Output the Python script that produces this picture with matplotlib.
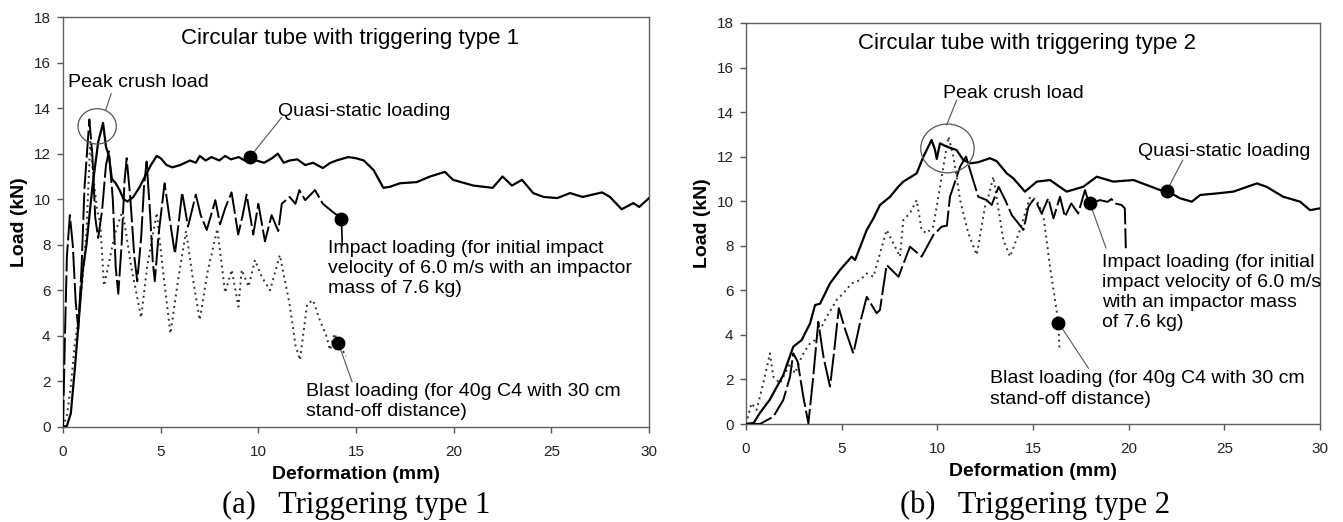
"""
Load vs deformation of circular tubes under quasi-static, impact and blast
loading, for two triggering types. Values read off the published figure.
"""
import matplotlib
matplotlib.use('Agg')
import matplotlib.pyplot as plt
from matplotlib.patches import Ellipse

plt.rcParams['font.family'] = ['Liberation Sans', 'DejaVu Sans']

# ---------------- triggering type 1 ----------------
qs1_x = [0, 0.2, 0.4, 0.6, 0.8, 1.0, 1.2, 1.5, 1.8, 2.05,
         2.2, 2.35, 2.5, 2.7, 2.9, 3.1, 3.3, 3.6, 3.9, 4.2,
         4.5, 4.8, 5.0, 5.3, 5.6, 6.0, 6.5, 6.8, 7.0, 7.3,
         7.6, 8.0, 8.3, 8.6, 9.0, 9.3, 9.57, 9.9, 10.3, 10.7,
         11.0, 11.3, 11.6, 12.0, 12.4, 12.8, 13.3, 13.67, 14.0, 14.6,
         15.0, 15.4, 15.9, 16.4, 16.75, 17.25, 18.1, 18.8, 19.55, 19.97,
         21.0, 22.0, 22.5, 22.98, 23.5, 24.07, 24.6, 25.3, 25.96, 26.6,
         27.6, 28.0, 28.6, 29.2, 29.5, 30.0]
qs1_y = [0, 0.05, 0.6, 2.5, 4.6, 6.8, 8.0, 10.5, 12.5, 13.35,
         12.3, 11.9, 10.9, 10.7, 10.4, 10.0, 9.9, 10.1, 10.5, 11.0,
         11.5, 11.9, 11.8, 11.5, 11.4, 11.5, 11.7, 11.6, 11.9, 11.7,
         11.85, 11.7, 11.9, 11.75, 11.85, 11.7, 11.85, 11.7, 11.6, 11.8,
         12.0, 11.6, 11.7, 11.75, 11.5, 11.6, 11.37, 11.59, 11.7, 11.85,
         11.8, 11.7, 11.28, 10.5, 10.55, 10.7, 10.75, 11.0, 11.2, 10.85,
         10.6, 10.5, 11.0, 10.6, 10.85, 10.27, 10.1, 10.05, 10.27, 10.1,
         10.3, 10.1, 9.56, 9.83, 9.66, 10.05]

imp1_x = [0, 0.1, 0.2, 0.35, 0.5, 0.65, 0.78, 0.95, 1.1, 1.35,
          1.5, 1.65, 1.8, 2.0, 2.2, 2.35, 2.55, 2.7, 2.83, 3.0,
          3.15, 3.26, 3.45, 3.65, 3.8, 4.0, 4.15, 4.28, 4.45, 4.6,
          4.7, 4.9, 5.2, 5.45, 5.73, 5.9, 6.1, 6.4, 6.8, 7.05,
          7.36, 7.8, 8.04, 8.3, 8.63, 8.97, 9.2, 9.4, 9.74, 10.0,
          10.34, 10.68, 11.02, 11.2, 11.6, 11.9, 12.1, 12.4, 12.9, 13.3,
          13.8, 14.25]
imp1_y = [0, 4.0, 7.5, 9.3, 8.0, 5.5, 4.3, 7.0, 10.5, 13.5,
          12.0, 9.2, 8.3, 9.5, 11.5, 12.1, 10.0, 7.0, 5.85, 8.0,
          10.8, 11.8, 10.0, 7.5, 6.4, 8.3, 10.6, 11.65, 9.5, 7.2,
          6.4, 8.5, 10.7, 9.2, 7.6, 8.8, 10.3, 8.8, 10.2, 9.3,
          8.65, 9.96, 8.9, 9.6, 10.3, 8.45, 9.3, 10.2, 8.45, 9.8,
          8.15, 9.3, 8.6, 9.8, 10.1, 9.8, 10.4, 9.96, 10.4, 9.8,
          9.45, 9.15]

bl1_x = [0, 0.2, 0.4, 0.6, 0.8, 1.0, 1.2, 1.4, 1.55, 1.75,
         1.9, 2.1, 2.3, 2.66, 3.05, 3.5, 4.0, 4.3, 4.8, 5.1,
         5.5, 5.9, 6.3, 6.65, 7.0, 7.4, 7.9, 8.3, 8.64, 8.98,
         9.15, 9.5, 9.83, 10.17, 10.6, 11.1, 11.6, 11.9, 12.13, 12.5,
         12.8, 13.1, 13.5, 13.67, 13.9, 14.1, 14.5]
bl1_y = [0, 0.5, 1.8, 3.6, 4.8, 6.5, 8.6, 12.6, 11.0, 9.5,
         9.0, 6.2, 7.0, 8.5, 9.5, 7.0, 4.8, 7.0, 9.4, 7.0,
         4.1, 6.5, 8.6, 6.5, 4.7, 6.8, 8.7, 5.9, 6.9, 5.28,
         6.9, 6.16, 7.33, 6.6, 6.0, 7.55, 5.4, 3.6, 2.94, 5.4,
         5.57, 4.8, 3.96, 3.38, 4.1, 3.67, 3.09]

# ---------------- triggering type 2 ----------------
qs2_x = [0, 0.4, 0.73, 1.25, 1.95, 2.47, 2.91, 3.35, 3.61, 3.87,
         4.39, 4.91, 5.52, 5.7, 6.31, 6.66, 7.0, 7.53, 7.96, 8.22,
         8.92, 9.27, 9.7, 9.88, 9.97, 10.14, 10.49, 11.0, 11.36, 11.71,
         12.14, 12.75, 13.1, 13.63, 13.97, 14.58, 15.2, 15.89, 16.76, 17.63,
         18.33, 19.2, 20.25, 20.94, 21.64, 21.99, 22.69, 23.3, 23.74, 24.6,
         25.47, 26.7, 27.2, 28.08, 28.96, 29.48, 30.0]
qs2_y = [0, 0.05, 0.5, 1.1, 2.2, 3.47, 3.77, 4.52, 5.34, 5.4,
         6.31, 6.91, 7.51, 7.36, 8.71, 9.23, 9.83, 10.2, 10.65, 10.88,
         11.25, 12.0, 12.75, 12.3, 11.9, 12.6, 12.45, 12.3, 11.85, 11.7,
         11.75, 11.93, 11.8, 11.25, 11.03, 10.43, 10.88, 10.95, 10.43, 10.65,
         11.1, 10.88, 10.95, 10.73, 10.5, 10.47, 10.13, 9.98, 10.28, 10.35,
         10.43, 10.8, 10.65, 10.2, 9.98, 9.6, 9.68]

imp2_x = [0, 0.73, 1.43, 1.95, 2.3, 2.47, 2.7, 3.0, 3.26, 3.5,
          3.78, 4.05, 4.39, 4.6, 4.85, 5.2, 5.61, 5.95, 6.31, 6.83,
          7.0, 7.35, 7.97, 8.57, 9.18, 9.79, 10.23, 10.5, 10.66, 11.19,
          11.5, 11.71, 12.14, 12.58, 12.84, 13.2, 13.55, 13.89, 14.24, 14.5,
          14.76, 15.0, 15.2, 15.45, 15.8, 16.07, 16.41, 16.67, 17.0, 17.36,
          17.72, 17.9, 17.98, 18.5, 18.9, 19.1, 19.3, 19.63, 19.8, 19.85]
imp2_y = [0, 0.0, 0.33, 1.08, 2.12, 3.17, 2.8, 1.2, 0.03, 2.0,
          4.59, 3.0, 1.68, 3.2, 5.2, 4.2, 3.17, 4.5, 5.71, 4.97,
          5.12, 7.14, 6.61, 7.96, 7.51, 8.48, 8.86, 8.9, 10.2, 11.55,
          12.0, 11.4, 10.2, 10.05, 9.83, 10.65, 10.05, 9.38, 9.0, 8.71,
          9.75, 10.05, 9.9, 9.45, 10.13, 9.23, 10.2, 9.3, 9.9, 9.45,
          10.5, 9.97, 9.9, 10.05, 9.97, 10.1, 9.9, 9.83, 9.68, 7.89]

bl2_x = [0, 0.29, 0.55, 0.64, 0.95, 1.25, 1.43, 1.78, 2.3, 2.56,
         2.91, 3.09, 3.35, 3.61, 4.22, 4.74, 5.09, 5.52, 5.96, 6.31,
         6.66, 7.35, 7.7, 8.05, 8.22, 8.57, 8.92, 9.18, 9.44, 9.79,
         10.14, 10.58, 10.84, 11.19, 11.62, 12.06, 12.49, 12.67, 12.93, 13.2,
         13.45, 13.8, 14.32, 14.85, 15.2, 15.55, 15.89, 16.15, 16.33, 16.38]
bl2_y = [0, 0.93, 0.63, 0.93, 2.0, 3.17, 2.12, 1.82, 2.72, 2.27,
         3.02, 3.3, 3.62, 3.77, 4.82, 5.57, 5.87, 6.31, 6.46, 6.76,
         6.61, 8.71, 8.11, 7.51, 9.16, 9.46, 10.05, 8.71, 8.56, 8.86,
         10.65, 12.9, 12.0, 10.05, 8.56, 7.59, 9.75, 10.2, 11.1, 9.6,
         8.26, 7.51, 8.71, 10.2, 10.05, 9.3, 7.06, 5.57, 4.55, 3.4]

# index of the point carrying the black label marker (qs, impact, blast)
marker_idx1 = [36, -1, 45]
marker_idx2 = [45, 52, 48]

titles = ['Circular tube with triggering type 1', 'Circular tube with triggering type 2']
captions = ['(a)   Triggering type 1', '(b)   Triggering type 2']
qs_label = 'Quasi-static loading'
peak_label = 'Peak crush load'
imp_labels = ['Impact loading (for initial impact\nvelocity of 6.0 m/s with an impactor\nmass of 7.6 kg)',
              'Impact loading (for initial\nimpact velocity of 6.0 m/s\nwith an impactor mass\nof 7.6 kg)']
bl_label = 'Blast loading (for 40g C4 with 30 cm\nstand-off distance)'

FS = 14
LS = 1.25
LEADER = dict(arrowstyle='-', color='#555555', lw=0.8, shrinkA=0, shrinkB=0)


def draw_panel(ax, qs, imp, bl, midx):
    ax.plot(qs[0], qs[1], color='black', lw=1.6, zorder=4)
    ax.plot(imp[0], imp[1], color='black', lw=1.4, ls=(0, (14, 2)), zorder=3)
    ax.plot(bl[0], bl[1], color='#333333', lw=1.4, ls=(0, (1, 2)), zorder=2)
    pts = []
    for (xs, ys), i in zip([qs, imp, bl], midx):
        ax.plot(xs[i], ys[i], 'o', color='black', ms=9, zorder=5)
        pts.append((xs[i], ys[i]))

    ax.set_xlim(0, 30)
    ax.set_ylim(0, 18)
    ax.set_xticks(range(0, 31, 5))
    ax.set_yticks(range(0, 19, 2))
    ax.tick_params(direction='out', length=4, width=1, color='#555555',
                   labelcolor='#222222', labelsize=11)
    ax.tick_params(axis='y', pad=5)
    ax.tick_params(axis='x', pad=9)
    for sp in ax.spines.values():
        sp.set_color('#606060')
        sp.set_linewidth(1.0)
    ax.set_xlabel('Deformation (mm)', fontsize=FS, fontweight='bold', labelpad=5)
    ax.set_ylabel('Load (kN)', fontsize=FS, fontweight='bold', labelpad=4)
    return pts


fig = plt.figure(figsize=(13.43, 5.22), dpi=100)
ax1 = fig.add_axes([63 / 1343, 1 - 427 / 522, 586 / 1343, 410 / 522])
ax2 = fig.add_axes([746 / 1343, 1 - 424 / 522, 574 / 1343, 401 / 522])

# left panel
p = draw_panel(ax1, (qs1_x, qs1_y), (imp1_x, imp1_y), (bl1_x, bl1_y), marker_idx1)
ax1.text(14.7, 17.07, titles[0], fontsize=16, ha='center', va='center')
ax1.add_patch(Ellipse((1.75, 13.2), 1.96, 1.55, fill=False, ec='#555555', lw=0.9, zorder=6))
ax1.annotate('', xy=(2.18, 13.9), xytext=(2.47, 14.64), arrowprops=LEADER)
ax1.text(0.26, 15.14, peak_label, fontsize=FS, ha='left', va='center')
ax1.annotate('', xy=p[0], xytext=(11.2, 13.6), arrowprops=LEADER)
ax1.text(11.03, 13.84, qs_label, fontsize=FS, ha='left', va='center')
ax1.annotate('', xy=p[1], xytext=(14.3, 8.0), arrowprops=dict(LEADER, color='black', lw=1.2))
ax1.text(13.57, 6.95, imp_labels[0], fontsize=FS, ha='left', va='center', linespacing=LS)
ax1.annotate('', xy=p[2], xytext=(14.8, 1.98), arrowprops=LEADER)
ax1.text(12.44, 1.12, bl_label, fontsize=FS, ha='left', va='center', linespacing=LS)

# right panel
p = draw_panel(ax2, (qs2_x, qs2_y), (imp2_x, imp2_y), (bl2_x, bl2_y), marker_idx2)
ax2.text(14.71, 17.09, titles[1], fontsize=16, ha='center', va='center')
ax2.add_patch(Ellipse((10.53, 12.37), 2.79, 2.19, fill=False, ec='#555555', lw=0.9, zorder=6))
ax2.annotate('', xy=(10.49, 13.42), xytext=(11.01, 14.54), arrowprops=LEADER)
ax2.text(10.28, 14.84, peak_label, fontsize=FS, ha='left', va='center')
ax2.annotate('', xy=p[0], xytext=(22.83, 11.85), arrowprops=LEADER)
ax2.text(20.51, 12.22, qs_label, fontsize=FS, ha='left', va='center')
ax2.annotate('', xy=p[1], xytext=(18.82, 7.89), arrowprops=LEADER)
ax2.text(18.59, 5.9, imp_labels[1], fontsize=FS, ha='left', va='center', linespacing=LS)
ax2.annotate('', xy=p[2], xytext=(17.9, 2.5), arrowprops=LEADER)
ax2.text(12.75, 1.57, bl_label, fontsize=FS, ha='left', va='center', linespacing=LS)

# sub-figure captions
fig.text(222 / 1343, 1 - 505 / 522, captions[0], fontsize=22, family='Liberation Serif',
         ha='left', va='center')
fig.text(900 / 1343, 1 - 505 / 522, captions[1], fontsize=22, family='Liberation Serif',
         ha='left', va='center')

fig.savefig('out.png', dpi=100)
